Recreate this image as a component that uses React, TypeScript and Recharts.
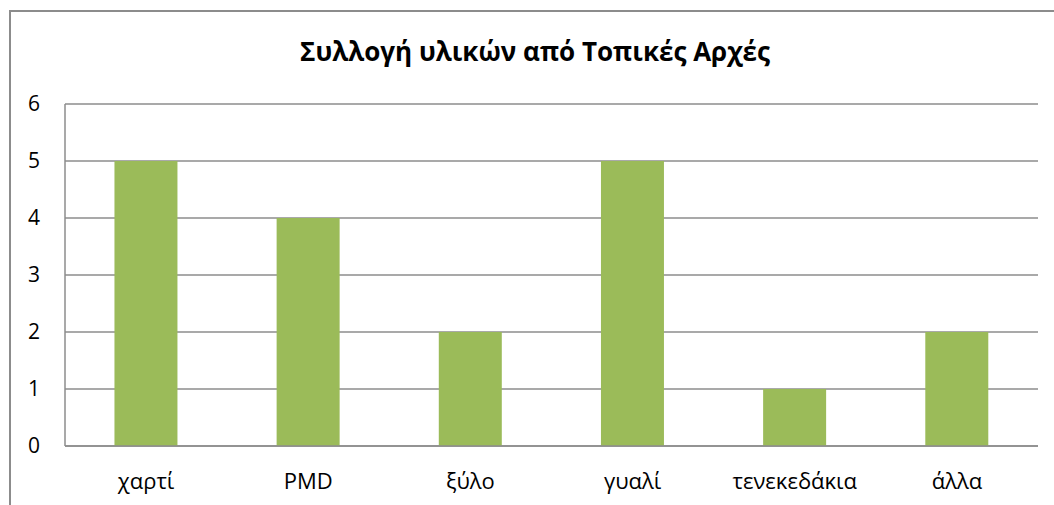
import { BarChart, Bar, XAxis, YAxis, CartesianGrid } from "recharts";

const categories = ["χαρτί", "PMD", "ξύλο", "γυαλί", "τενεκεδάκια", "άλλα"];
const values = [5, 4, 2, 5, 1, 2];
const yTicks = [0, 1, 2, 3, 4, 5, 6];

const data = categories.map((name, i) => ({ name, value: values[i] }));

const FONT = "'Open Sans', 'Liberation Sans', Arial, sans-serif";

export default function App() {
  return (
    <div
      style={{
        position: "absolute",
        left: 0,
        top: 0,
        width: 1054,
        height: 505,
        overflow: "hidden",
        background: "#fff",
        fontFamily: FONT,
      }}
    >
      {/* chart frame, cut off on the right and bottom like the source */}
      <div
        style={{
          position: "absolute",
          left: 9,
          top: 10,
          width: 1100,
          height: 600,
          border: "2px solid #8c8c8c",
          boxSizing: "border-box",
        }}
      />
      <div
        style={{
          position: "absolute",
          left: 0,
          width: 1070,
          top: 34,
          textAlign: "center",
          fontSize: 26,
          lineHeight: "35px",
          fontWeight: "bold",
          color: "#000",
        }}
      >
        Συλλογή υλικών από Τοπικές Αρχές
      </div>
      <div style={{ position: "absolute", left: 0, top: 0 }}>
        <BarChart
          width={1054}
          height={505}
          data={data}
          margin={{ top: 104, right: 16, left: 10, bottom: 0 }}
          barCategoryGap="30.5%"
        >
          <CartesianGrid
            vertical={false}
            stroke="#8c8c8c"
            strokeWidth={1.5}
          />
          <XAxis
            dataKey="name"
            axisLine={{ stroke: "#8c8c8c", strokeWidth: 1.5 }}
            tickLine={false}
            tickSize={0}
            tickMargin={27}
            height={59}
            tick={{ fontSize: 22, fill: "#000", fontFamily: FONT }}
          />
          <YAxis
            domain={[0, 6]}
            ticks={yTicks}
            interval={0}
            width={55}
            axisLine={{ stroke: "#8c8c8c", strokeWidth: 1.5 }}
            tickLine={false}
            tickSize={0}
            tickMargin={25}
            tick={{ fontSize: 21, fill: "#000", fontFamily: FONT }}
          />
          <Bar dataKey="value" fill="#9bbb59" isAnimationActive={false} />
        </BarChart>
      </div>
    </div>
  );
}
